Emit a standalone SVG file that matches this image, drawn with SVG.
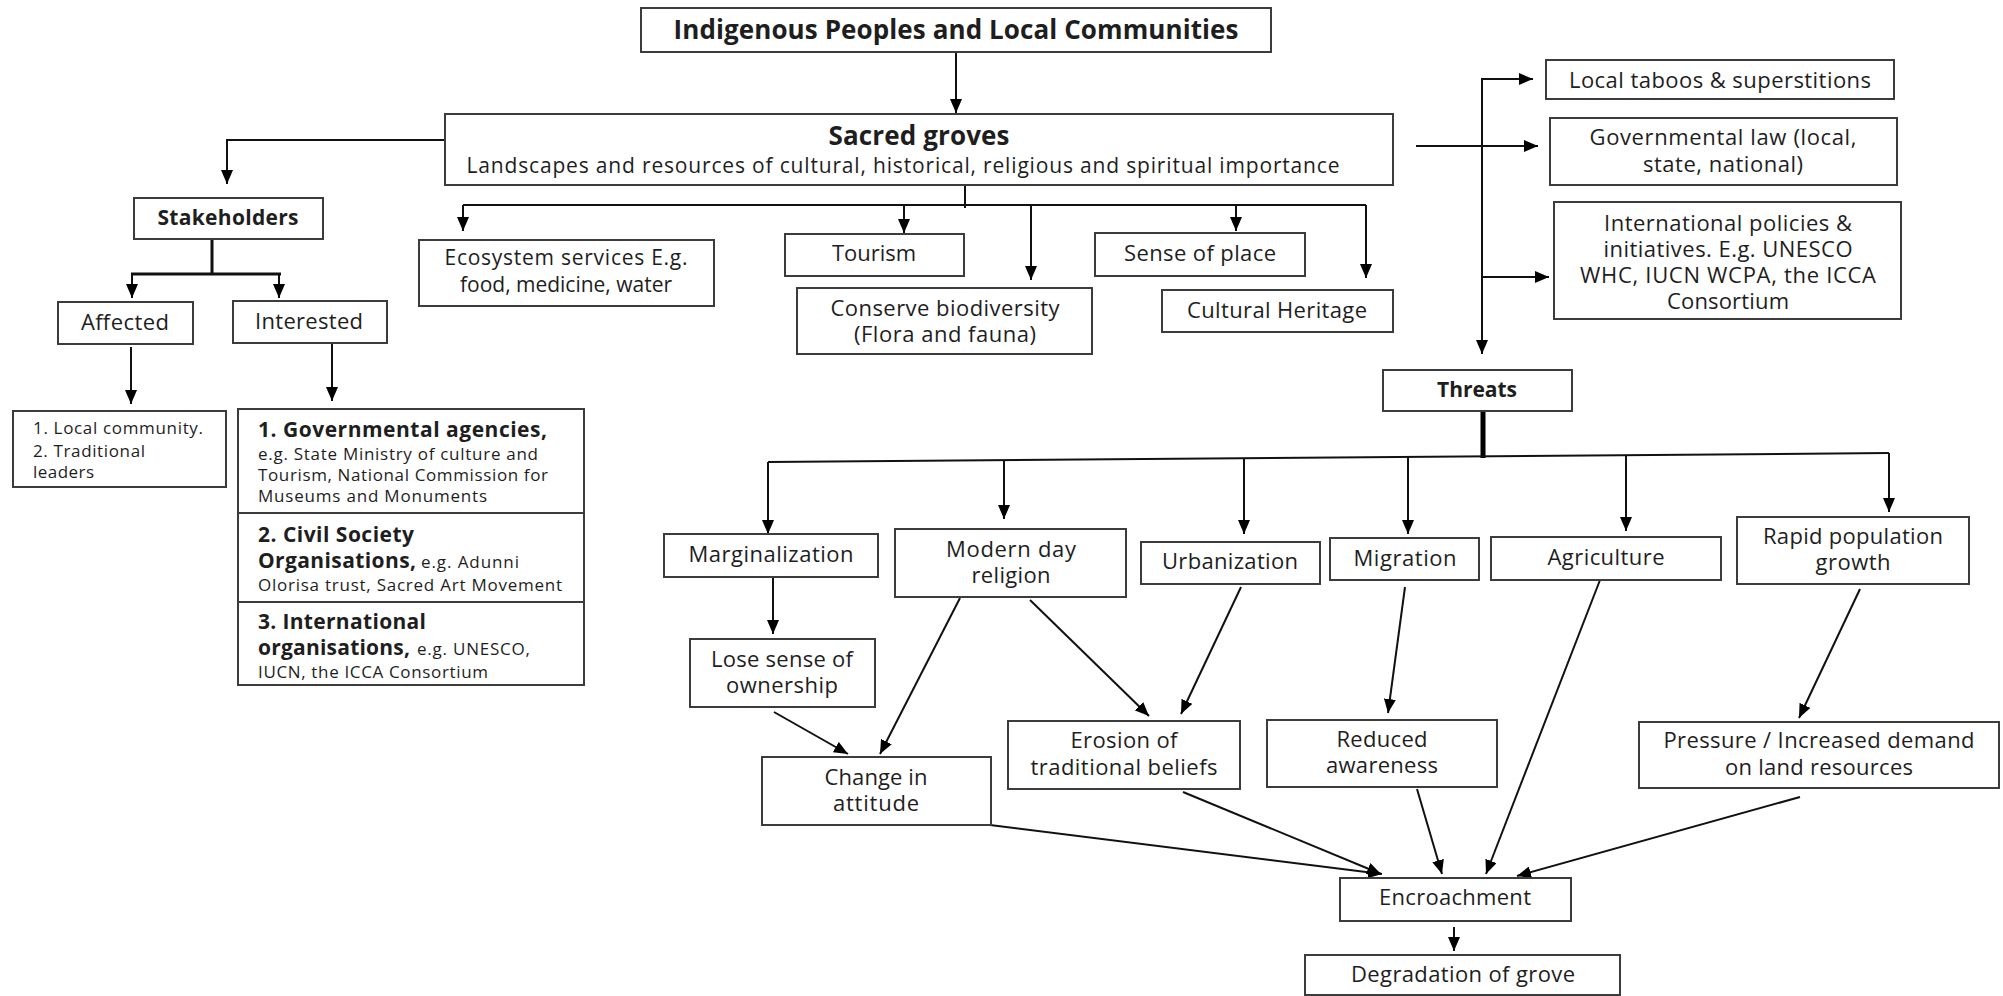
<svg xmlns="http://www.w3.org/2000/svg" width="2003" height="996" viewBox="0 0 2003 996">
  <style>
    .box { fill: #ffffff; stroke: #3c3c3c; stroke-width: 2; }
    .link { fill: none; stroke: #111111; stroke-width: 2; }
    .thick { fill: none; stroke: #111111; stroke-width: 3; }
    .stem { fill: none; stroke: #000000; stroke-width: 5; }
    text { font-family: "Open Sans", "Noto Sans", sans-serif; fill: #1e1e1e; }
    .t { font-size: 22px; text-anchor: middle; }
    .t2 { font-size: 21px; text-anchor: middle; }
    .sub { font-size: 21px; text-anchor: middle; }
    .big { font-size: 26px; font-weight: bold; text-anchor: middle; }
    .hb { font-size: 21px; font-weight: bold; text-anchor: middle; }
    .sb { font-size: 21px; font-weight: bold; }
    .sm { font-size: 17px; }
  </style>
  <defs>
    <marker id="arrow" markerUnits="userSpaceOnUse" markerWidth="14" markerHeight="12" refX="14" refY="6" orient="auto">
      <path d="M0,0 L14,6 L0,12 z" fill="#000000"/>
    </marker>
  </defs>

  <rect width="2003" height="996" fill="#ffffff"/>

  <!-- connectors -->
  <g id="connectors">
    <!-- IPLC to sacred groves -->
    <line class="link" x1="956" y1="52" x2="956" y2="113" marker-end="url(#arrow)"/>
    <!-- sacred groves to stakeholders -->
    <polyline class="link" points="445,140 227,140 227,184" marker-end="url(#arrow)"/>
    <!-- stakeholders split -->
    <line class="thick" x1="212" y1="239" x2="212" y2="274"/>
    <line class="thick" x1="131" y1="274" x2="281" y2="274"/>
    <line class="link" x1="132" y1="274" x2="132" y2="298" marker-end="url(#arrow)"/>
    <line class="link" x1="279" y1="274" x2="279" y2="298" marker-end="url(#arrow)"/>
    <line class="link" x1="131" y1="347" x2="131" y2="404" marker-end="url(#arrow)"/>
    <line class="link" x1="332" y1="344" x2="332" y2="401" marker-end="url(#arrow)"/>
    <!-- sacred groves to values -->
    <line class="link" x1="965" y1="185" x2="965" y2="208"/>
    <line class="link" x1="463" y1="205" x2="1366" y2="205"/>
    <line class="link" x1="463" y1="205" x2="463" y2="231" marker-end="url(#arrow)"/>
    <line class="link" x1="904" y1="205" x2="904" y2="233" marker-end="url(#arrow)"/>
    <line class="link" x1="1031" y1="205" x2="1031" y2="280" marker-end="url(#arrow)"/>
    <line class="link" x1="1236" y1="205" x2="1236" y2="231" marker-end="url(#arrow)"/>
    <line class="link" x1="1366" y1="205" x2="1366" y2="278" marker-end="url(#arrow)"/>
    <!-- sacred groves to protection and threats -->
    <line class="link" x1="1416" y1="146" x2="1538" y2="146" marker-end="url(#arrow)"/>
    <line class="link" x1="1482" y1="79" x2="1482" y2="354" marker-end="url(#arrow)"/>
    <line class="link" x1="1481" y1="79" x2="1533" y2="79" marker-end="url(#arrow)"/>
    <line class="link" x1="1482" y1="277" x2="1549" y2="277" marker-end="url(#arrow)"/>
    <!-- threats split -->
    <line class="stem" x1="1483" y1="411" x2="1483" y2="458"/>
    <line class="link" x1="768" y1="462" x2="1889" y2="453"/>
    <line class="link" x1="768" y1="462" x2="768" y2="534" marker-end="url(#arrow)"/>
    <line class="link" x1="1004" y1="460" x2="1004" y2="519" marker-end="url(#arrow)"/>
    <line class="link" x1="1244" y1="458" x2="1244" y2="534" marker-end="url(#arrow)"/>
    <line class="link" x1="1408" y1="457" x2="1408" y2="534" marker-end="url(#arrow)"/>
    <line class="link" x1="1626" y1="455" x2="1626" y2="531" marker-end="url(#arrow)"/>
    <line class="link" x1="1889" y1="453" x2="1889" y2="512" marker-end="url(#arrow)"/>
    <!-- causes and effects -->
    <line class="link" x1="773" y1="577" x2="773" y2="634" marker-end="url(#arrow)"/>
    <line class="link" x1="960" y1="598" x2="880" y2="754" marker-end="url(#arrow)"/>
    <line class="link" x1="1030" y1="600" x2="1149" y2="716" marker-end="url(#arrow)"/>
    <line class="link" x1="1241" y1="587" x2="1181" y2="714" marker-end="url(#arrow)"/>
    <line class="link" x1="1405" y1="587" x2="1388" y2="713" marker-end="url(#arrow)"/>
    <line class="link" x1="774" y1="712" x2="848" y2="754" marker-end="url(#arrow)"/>
    <line class="link" x1="1860" y1="589" x2="1799" y2="718" marker-end="url(#arrow)"/>
    <!-- into encroachment -->
    <line class="link" x1="958" y1="821" x2="1382" y2="874" marker-end="url(#arrow)"/>
    <line class="link" x1="1183" y1="792" x2="1381" y2="874" marker-end="url(#arrow)"/>
    <line class="link" x1="1417" y1="789" x2="1442" y2="874" marker-end="url(#arrow)"/>
    <line class="link" x1="1600" y1="580" x2="1486" y2="874" marker-end="url(#arrow)"/>
    <line class="link" x1="1800" y1="797" x2="1517" y2="876" marker-end="url(#arrow)"/>
    <line class="link" x1="1454" y1="927" x2="1454" y2="951" marker-end="url(#arrow)"/>
  </g>

  <!-- nodes -->
  <g id="iplc">
    <rect class="box" x="641" y="8" width="630" height="44"/>
    <text class="big" x="956" y="39" textLength="565">Indigenous Peoples and Local Communities</text>
  </g>
  <g id="sacred-groves">
    <rect class="box" x="445" y="114" width="948" height="71"/>
    <text class="big" x="919" y="145" textLength="181">Sacred groves</text>
    <text class="sub" x="903" y="173" textLength="873">Landscapes and resources of cultural, historical, religious and spiritual importance</text>
  </g>
  <g id="stakeholders">
    <rect class="box" x="134" y="198" width="189" height="41"/>
    <text class="hb" x="228" y="225" textLength="141">Stakeholders</text>
  </g>
  <g id="affected">
    <rect class="box" x="58" y="302" width="135" height="42"/>
    <text class="t" x="125" y="330" textLength="88">Affected</text>
  </g>
  <g id="interested">
    <rect class="box" x="233" y="301" width="154" height="42"/>
    <text class="t" x="309" y="329" textLength="108">Interested</text>
  </g>
  <g id="affected-list">
    <rect class="box" x="13" y="411" width="213" height="76"/>
    <text class="sm" x="33" y="434" textLength="170">1. Local community.</text>
    <text class="sm" x="33" y="457" textLength="112">2. Traditional</text>
    <text class="sm" x="33" y="478" textLength="61">leaders</text>
  </g>
  <g id="interested-list">
    <rect class="box" x="238" y="409" width="346" height="104"/>
    <rect class="box" x="238" y="513" width="346" height="89"/>
    <rect class="box" x="238" y="602" width="346" height="83"/>
    <text class="sb" x="258" y="437" textLength="289">1. Governmental agencies,</text>
    <text class="sm" x="258" y="460" textLength="280">e.g. State Ministry of culture and</text>
    <text class="sm" x="258" y="481" textLength="290">Tourism, National Commission for</text>
    <text class="sm" x="258" y="502" textLength="229">Museums and Monuments</text>
    <text class="sb" x="258" y="542" textLength="156">2. Civil Society</text>
    <text class="sb" x="258" y="568" textLength="158">Organisations,</text>
    <text class="sm" x="421" y="568" textLength="98">e.g. Adunni</text>
    <text class="sm" x="258" y="591" textLength="304">Olorisa trust, Sacred Art Movement</text>
    <text class="sb" x="258" y="629" textLength="168">3. International</text>
    <text class="sb" x="258" y="655" textLength="152">organisations,</text>
    <text class="sm" x="417" y="655" textLength="113">e.g. UNESCO,</text>
    <text class="sm" x="258" y="678" textLength="230">IUCN, the ICCA Consortium</text>
  </g>
  <g id="ecosystem-services">
    <rect class="box" x="419" y="240" width="295" height="66"/>
    <text class="t2" x="566" y="265" textLength="243">Ecosystem services E.g.</text>
    <text class="t2" x="566" y="292" textLength="212">food, medicine, water</text>
  </g>
  <g id="tourism">
    <rect class="box" x="785" y="234" width="179" height="42"/>
    <text class="t" x="874" y="261" textLength="84">Tourism</text>
  </g>
  <g id="conserve-biodiversity">
    <rect class="box" x="797" y="288" width="295" height="66"/>
    <text class="t" x="945" y="316" textLength="229">Conserve biodiversity</text>
    <text class="t" x="945" y="342" textLength="182">(Flora and fauna)</text>
  </g>
  <g id="sense-of-place">
    <rect class="box" x="1095" y="233" width="210" height="43"/>
    <text class="t" x="1200" y="261" textLength="152">Sense of place</text>
  </g>
  <g id="cultural-heritage">
    <rect class="box" x="1162" y="290" width="231" height="42"/>
    <text class="t" x="1277" y="318" textLength="180">Cultural Heritage</text>
  </g>
  <g id="local-taboos">
    <rect class="box" x="1546" y="60" width="348" height="39"/>
    <text class="t" x="1720" y="88" textLength="302">Local taboos &amp; superstitions</text>
  </g>
  <g id="governmental-law">
    <rect class="box" x="1550" y="118" width="347" height="67"/>
    <text class="t" x="1723" y="145" textLength="267">Governmental law (local,</text>
    <text class="t" x="1723" y="172" textLength="160">state, national)</text>
  </g>
  <g id="international-policies">
    <rect class="box" x="1554" y="202" width="347" height="117"/>
    <text class="t" x="1728" y="231" textLength="248">International policies &amp;</text>
    <text class="t" x="1728" y="257" textLength="249">initiatives. E.g. UNESCO</text>
    <text class="t" x="1728" y="283" textLength="296">WHC, IUCN WCPA, the ICCA</text>
    <text class="t" x="1728" y="309" textLength="122">Consortium</text>
  </g>
  <g id="threats">
    <rect class="box" x="1383" y="370" width="189" height="41"/>
    <text class="hb" x="1477" y="397" textLength="80">Threats</text>
  </g>
  <g id="marginalization">
    <rect class="box" x="664" y="534" width="214" height="43"/>
    <text class="t" x="771" y="562" textLength="165">Marginalization</text>
  </g>
  <g id="modern-day-religion">
    <rect class="box" x="895" y="529" width="231" height="68"/>
    <text class="t" x="1011" y="557" textLength="130">Modern day</text>
    <text class="t" x="1011" y="583" textLength="79">religion</text>
  </g>
  <g id="urbanization">
    <rect class="box" x="1141" y="542" width="179" height="42"/>
    <text class="t" x="1230" y="569" textLength="136">Urbanization</text>
  </g>
  <g id="migration">
    <rect class="box" x="1330" y="538" width="149" height="42"/>
    <text class="t" x="1405" y="566" textLength="103">Migration</text>
  </g>
  <g id="agriculture">
    <rect class="box" x="1491" y="537" width="230" height="43"/>
    <text class="t" x="1606" y="565" textLength="117">Agriculture</text>
  </g>
  <g id="rapid-population-growth">
    <rect class="box" x="1737" y="517" width="232" height="67"/>
    <text class="t" x="1853" y="544" textLength="180">Rapid population</text>
    <text class="t" x="1853" y="570" textLength="75">growth</text>
  </g>
  <g id="lose-sense-of-ownership">
    <rect class="box" x="690" y="639" width="185" height="68"/>
    <text class="t" x="782" y="667" textLength="142">Lose sense of</text>
    <text class="t" x="782" y="693" textLength="112">ownership</text>
  </g>
  <g id="change-in-attitude">
    <rect class="box" x="762" y="757" width="229" height="68"/>
    <text class="t" x="876" y="785" textLength="103">Change in</text>
    <text class="t" x="876" y="811" textLength="86">attitude</text>
  </g>
  <g id="erosion-of-beliefs">
    <rect class="box" x="1008" y="721" width="232" height="68"/>
    <text class="t" x="1124" y="748" textLength="107">Erosion of</text>
    <text class="t" x="1124" y="775" textLength="187">traditional beliefs</text>
  </g>
  <g id="reduced-awareness">
    <rect class="box" x="1267" y="720" width="230" height="67"/>
    <text class="t" x="1382" y="747" textLength="91">Reduced</text>
    <text class="t" x="1382" y="773" textLength="112">awareness</text>
  </g>
  <g id="land-pressure">
    <rect class="box" x="1639" y="722" width="360" height="66"/>
    <text class="t" x="1819" y="748" textLength="311">Pressure / Increased demand</text>
    <text class="t" x="1819" y="775" textLength="188">on land resources</text>
  </g>
  <g id="encroachment">
    <rect class="box" x="1340" y="878" width="231" height="43"/>
    <text class="t" x="1455" y="905" textLength="152">Encroachment</text>
  </g>
  <g id="degradation-of-grove">
    <rect class="box" x="1305" y="955" width="315" height="40"/>
    <text class="t" x="1463" y="982" textLength="224">Degradation of grove</text>
  </g>
</svg>
